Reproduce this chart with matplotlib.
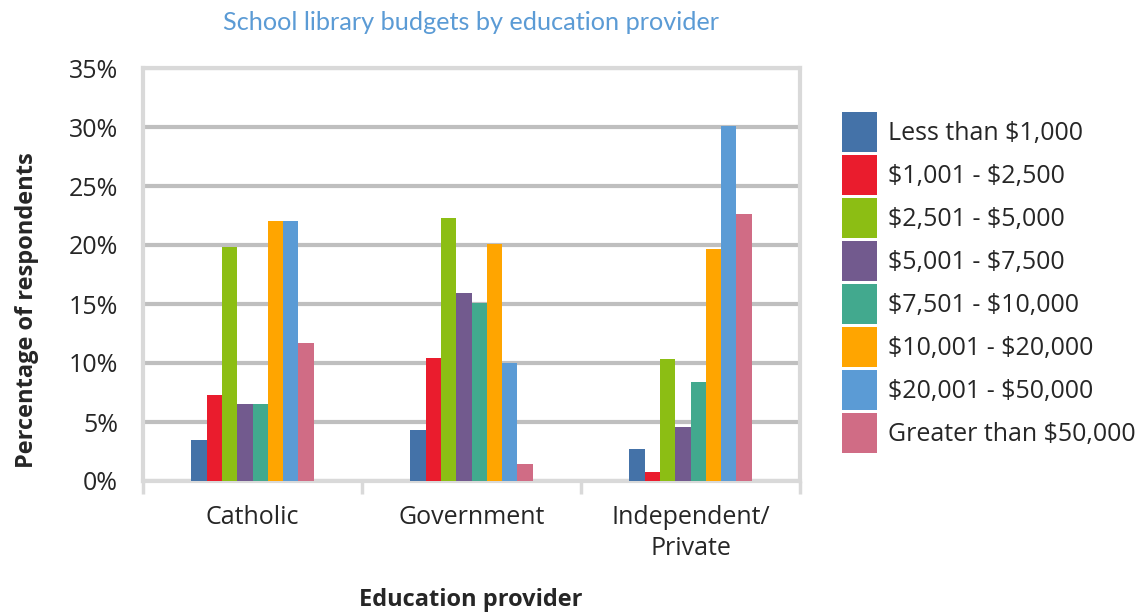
import matplotlib
matplotlib.use("Agg")
import matplotlib.pyplot as plt
import numpy as np

plt.rcParams['font.family'] = ['Open Sans', 'DejaVu Sans']
plt.rcParams['text.parse_math'] = False

categories = ["Catholic", "Government", "Independent/\nPrivate"]
series_names = ["Less than $1,000", "$1,001 - $2,500", "$2,501 - $5,000",
                "$5,001 - $7,500", "$7,501 - $10,000", "$10,001 - $20,000",
                "$20,001 - $50,000", "Greater than $50,000"]
less_1000 = [3.5, 4.3, 2.7]
r1001_2500 = [7.3, 10.4, 0.8]
r2501_5000 = [19.8, 22.3, 10.3]
r5001_7500 = [6.5, 15.9, 4.6]
r7501_10000 = [6.5, 15.1, 8.4]
r10001_20000 = [22.0, 20.1, 19.7]
r20001_50000 = [22.0, 10.0, 30.1]
greater_50000 = [11.7, 1.4, 22.6]
series_values = [less_1000, r1001_2500, r2501_5000, r5001_7500,
                 r7501_10000, r10001_20000, r20001_50000, greater_50000]
colors = ["#4472A8", "#EA1C2D", "#8CBE14", "#725A8E", "#42A98E",
          "#FFA500", "#5B9BD5", "#D06C85"]
y_ticks = [0, 5, 10, 15, 20, 25, 30, 35]
y_tick_labels = ["0%", "5%", "10%", "15%", "20%", "25%", "30%", "35%"]

fig = plt.figure(figsize=(11.48, 6.15), dpi=100)
ax = fig.add_axes([143/1148, 1-481/615, (800-143)/1148, (481-68)/615])

x = np.arange(len(categories))
n = len(series_values)
bw = 0.56 / n
for i, (vals, col, name) in enumerate(zip(series_values, colors, series_names)):
    ax.bar(x - 0.28 + bw*(i+0.5), vals, width=bw, color=col, label=name,
           zorder=3, linewidth=0)

ax.set_xlim(-0.5, 2.5)
ax.set_ylim(0, 35)
ax.set_yticks(y_ticks)
ax.set_yticklabels(y_tick_labels, fontsize=18, color="#262626")
ax.set_xticks(x)
ax.set_xticklabels(categories, fontsize=18, color="#262626", linespacing=1.35)
ax.set_xticks([-0.5, 0.5, 1.5, 2.5], minor=True)
ax.tick_params(axis='x', which='major', length=0, pad=17)
ax.tick_params(axis='x', which='minor', length=9, width=2.5, color="#D9D9D9")
ax.tick_params(axis='y', length=0, pad=18)
ax.yaxis.grid(True, color="#BFBFBF", linewidth=3, zorder=0)
for s in ax.spines.values():
    s.set_color("#D9D9D9")
    s.set_linewidth(3)

fig.text(27/1148, 1-310/615, "Percentage of respondents", fontsize=17,
         fontweight='bold', color="#262626", ha='center', va='center',
         rotation=90)
fig.text(471/1148, 1-600/615, "Education provider", fontsize=17,
         fontweight='bold', color="#262626", ha='center', va='center')
fig.text(471/1148, 1-22/615, "School library budgets by education provider",
         fontsize=18.2, color="#5B9BD5", ha='center', va='center',
         family=['Lato', 'DejaVu Sans'])

handles, labels = ax.get_legend_handles_labels()
leg = fig.legend(handles, labels, loc='upper left',
                 bbox_to_anchor=(842/1148, 1-112/615), frameon=False,
                 fontsize=18, handlelength=1.38, handleheight=2.085,
                 handletextpad=0.44, labelspacing=0.12, borderaxespad=0,
                 borderpad=0)
for t in leg.get_texts():
    t.set_color("#262626")

fig.savefig("out.png", dpi=100)
